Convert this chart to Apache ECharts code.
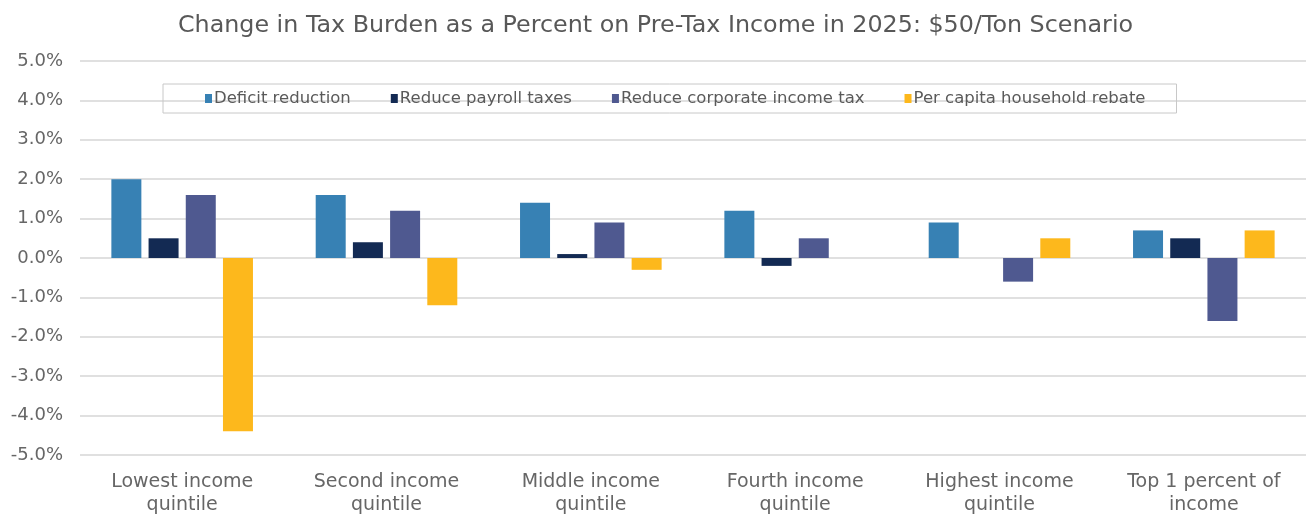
<!DOCTYPE html>
<html>
<head>
<meta charset="utf-8">
<script src="https://cdn.jsdelivr.net/npm/echarts@6/dist/echarts.min.js"></script>
<style>
  html, body { margin: 0; padding: 0; background: #fff; }
  #chart { width: 1311px; height: 517px; }
</style>
</head>
<body>
<div id="chart"></div>
<script>
// Income groups along the x axis
const categories = [
  'Lowest income\nquintile',
  'Second income\nquintile',
  'Middle income\nquintile',
  'Fourth income\nquintile',
  'Highest income\nquintile',
  'Top 1 percent of\nincome'
];

// Change in tax burden (% of pre-tax income) per revenue use
const deficitReduction = [2.0, 1.6, 1.4, 1.2, 0.9, 0.7];
const reducePayroll = [0.5, 0.4, 0.1, -0.2, 0.0, 0.5];
const reduceCorporate = [1.6, 1.2, 0.9, 0.5, -0.6, -1.6];
const householdRebate = [-4.4, -1.2, -0.3, 0.0, 0.5, 0.7];

const seriesNames = [
  'Deficit reduction',
  'Reduce payroll taxes',
  'Reduce corporate income tax',
  'Per capita household rebate'
];
const seriesColors = ['#3781b4', '#132a53', '#4f5990', '#fdb81c'];

const FONT = 'DejaVu Sans';

const chart = echarts.init(document.getElementById('chart'), null, { renderer: 'canvas' });

const makeSeries = (name, data, color) => ({
  name: name,
  type: 'bar',
  data: data,
  barWidth: 30,
  barGap: '24%',
  itemStyle: { color: color },
  emphasis: { disabled: true }
});

chart.setOption({
  animation: false,
  backgroundColor: '#ffffff',
  title: {
    text: 'Change in Tax Burden as a Percent on Pre-Tax Income in 2025: $50/Ton Scenario',
    left: 'center',
    top: 9,
    textStyle: {
      fontFamily: FONT,
      fontSize: 23.8,
      fontWeight: 'normal',
      color: '#585858'
    }
  },
  legend: {
    data: seriesNames,
    left: 163,
    top: 84,
    padding: [6, 31, 6, 42],
    itemGap: 40,
    itemWidth: 7,
    itemHeight: 9,
    borderColor: '#c8c8c8',
    borderWidth: 1,
    icon: 'rect',
    textStyle: {
      fontFamily: FONT,
      fontSize: 16.5,
      color: '#5a5a5a',
      padding: [4, 0, 0, -3]
    }
  },
  grid: {
    left: 80,
    right: 5,
    top: 61,
    bottom: 62,
    containLabel: false,
    outerBoundsMode: 'none'
  },
  xAxis: {
    type: 'category',
    data: categories,
    axisLine: { show: false },
    axisTick: { show: false },
    axisLabel: {
      interval: 0,
      margin: 16,
      fontFamily: FONT,
      fontSize: 19,
      lineHeight: 23,
      color: '#666666'
    }
  },
  yAxis: {
    type: 'value',
    min: -5,
    max: 5,
    interval: 1,
    axisLine: { show: false },
    axisTick: { show: false },
    splitLine: { lineStyle: { color: '#e0e0e0', width: 2 } },
    axisLabel: {
      margin: 17,
      fontFamily: FONT,
      fontSize: 18,
      color: '#666666',
      formatter: v => v.toFixed(1) + '%'
    }
  },
  series: [
    makeSeries(seriesNames[0], deficitReduction, seriesColors[0]),
    makeSeries(seriesNames[1], reducePayroll, seriesColors[1]),
    makeSeries(seriesNames[2], reduceCorporate, seriesColors[2]),
    makeSeries(seriesNames[3], householdRebate, seriesColors[3])
  ]
});
</script>
</body>
</html>
